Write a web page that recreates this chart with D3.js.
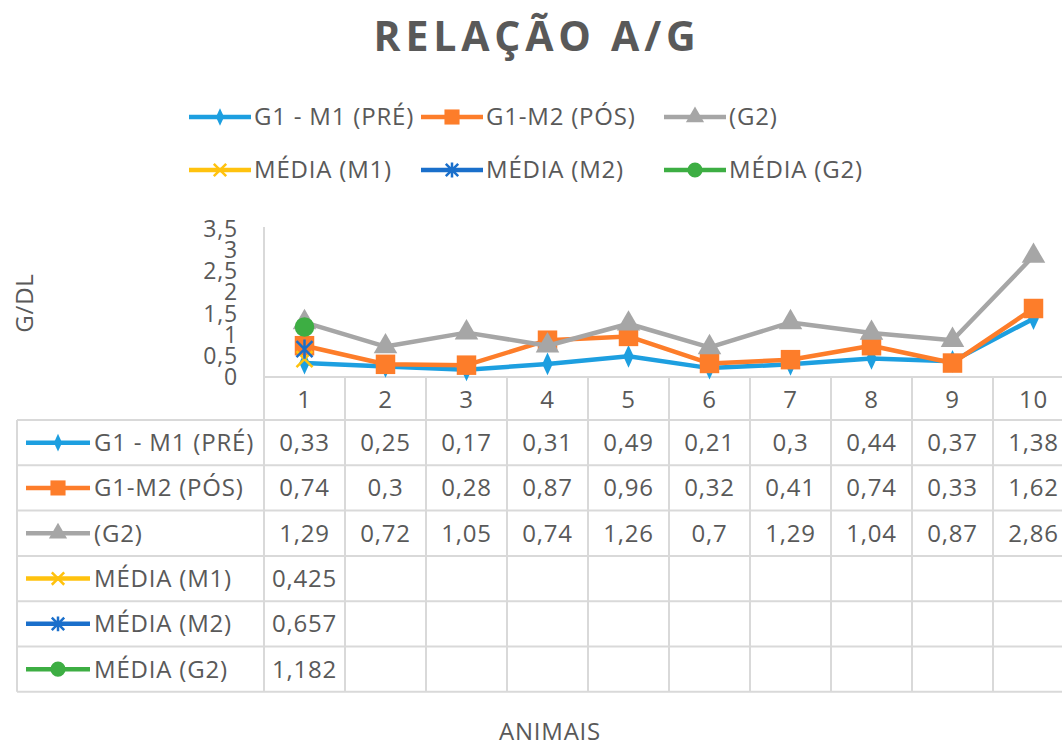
<!DOCTYPE html>
<html>
<head>
<meta charset="utf-8">
<script src="https://cdn.jsdelivr.net/npm/d3@7"></script>
<style>
  body { margin: 0; background: #fff; }
  text { font-family: "Open Sans", "Liberation Sans", sans-serif; fill: #595959; letter-spacing: 0.8px; }
</style>
</head>
<body>
<svg id="chart"></svg>
<script>
const width = 1062;
const height = 743;

// data
const animais = ["1", "2", "3", "4", "5", "6", "7", "8", "9", "10"];
const g1m1 = [0.33, 0.25, 0.17, 0.31, 0.49, 0.21, 0.3, 0.44, 0.37, 1.38];
const g1m2 = [0.74, 0.3, 0.28, 0.87, 0.96, 0.32, 0.41, 0.74, 0.33, 1.62];
const g2 = [1.29, 0.72, 1.05, 0.74, 1.26, 0.7, 1.29, 1.04, 0.87, 2.86];
const mediaM1 = [0.425];
const mediaM2 = [0.657];
const mediaG2 = [1.182];
const yTicks = [0, 0.5, 1, 1.5, 2, 2.5, 3, 3.5];

const series = [
    { name: "G1 - M1 (PRÉ)", values: g1m1, color: "#1d9fe0", marker: "diamond" },
    { name: "G1-M2 (PÓS)", values: g1m2, color: "#fd7d2a", marker: "square" },
    { name: "(G2)", values: g2, color: "#a6a6a6", marker: "triangle" },
    { name: "MÉDIA (M1)", values: mediaM1, color: "#ffc20e", marker: "x" },
    { name: "MÉDIA (M2)", values: mediaM2, color: "#1a6fcb", marker: "star" },
    { name: "MÉDIA (G2)", values: mediaG2, color: "#3dae43", marker: "circle" }
];

const fmt = v => String(v).replace(".", ",");

const svg = d3.select("#chart").attr("width", width).attr("height", height);

const plotLeft = 264, plotRight = 1074;
const plotTop = 229, plotBottom = 377;
const tableTop = 420, rowH = 45.3, tableLeft = 17;
const gridColor = "#d9d9d9";
const fs = 24;

const x = d3.scaleBand().domain(animais).range([plotLeft, plotRight]);
const y = d3.scaleLinear().domain([0, 3.5]).range([plotBottom, plotTop]);

// title
svg.append("text")
    .attr("x", 537).attr("y", 51)
    .attr("text-anchor", "middle")
    .attr("font-size", 41).attr("font-weight", "bold")
    .style("letter-spacing", "4.8px")
    .text("RELAÇÃO A/G");

// marker drawing
function drawMarker(g, type, color, cx, cy, s) {
    if (type === "diamond") {
        g.append("path").attr("d", d3.symbol(d3.symbolDiamond, 150 * s)())
            .attr("transform", `translate(${cx},${cy}) scale(0.8,1)`).attr("fill", color);
    } else if (type === "square") {
        g.append("path").attr("d", d3.symbol(d3.symbolSquare, 380 * s)())
            .attr("transform", `translate(${cx},${cy})`).attr("fill", color);
    } else if (type === "triangle") {
        g.append("path").attr("d", d3.symbol(d3.symbolTriangle, 240 * s)())
            .attr("transform", `translate(${cx},${cy})`).attr("fill", color);
    } else if (type === "circle") {
        g.append("path").attr("d", d3.symbol(d3.symbolCircle, 300 * s)())
            .attr("transform", `translate(${cx},${cy})`).attr("fill", color);
    } else if (type === "x") {
        const r = 8 * Math.sqrt(s);
        g.append("path").attr("d", `M${-r},${-r}L${r},${r}M${-r},${r}L${r},${-r}`)
            .attr("transform", `translate(${cx},${cy})`)
            .attr("stroke", color).attr("stroke-width", 2.5).attr("fill", "none");
    } else if (type === "star") {
        const r = 8 * Math.sqrt(s);
        g.append("path").attr("d", `M${-r},${-r}L${r},${r}M${-r},${r}L${r},${-r}M0,${-r * 1.2}L0,${r * 1.2}`)
            .attr("transform", `translate(${cx},${cy})`)
            .attr("stroke", color).attr("stroke-width", 2.5).attr("fill", "none");
    }
}

// legend at top
const legendX = [189, 421, 664];
const legendY = [117, 170];
series.forEach((s, i) => {
    const lx = legendX[i % 3], ly = legendY[Math.floor(i / 3)];
    const g = svg.append("g");
    g.append("line").attr("x1", lx).attr("x2", lx + 62).attr("y1", ly).attr("y2", ly)
        .attr("stroke", s.color).attr("stroke-width", 4.5);
    drawMarker(g, s.marker, s.color, lx + 31, ly, 0.6);
    g.append("text").attr("x", lx + 65).attr("y", ly).attr("dy", "0.35em")
        .attr("font-size", fs).text(s.name);
});

// y axis title
svg.append("text")
    .attr("transform", `translate(33,${(plotTop + plotBottom) / 2}) rotate(-90)`)
    .attr("text-anchor", "middle").attr("font-size", fs)
    .text("G/DL");

// y tick labels
svg.append("g").selectAll("text").data(yTicks).enter().append("text")
    .attr("x", 238).attr("y", d => y(d)).attr("dy", "0.35em")
    .attr("text-anchor", "end").attr("font-size", 23)
    .text(d => fmt(d));

// grid / table lines
const grid = svg.append("g").attr("stroke", gridColor).attr("stroke-width", 2);
const nRows = series.length;
const tableBottom = tableTop + rowH * nRows;
grid.append("line").attr("x1", plotLeft).attr("x2", plotLeft).attr("y1", plotTop - 2).attr("y2", tableBottom);
grid.append("line").attr("x1", plotLeft).attr("x2", width).attr("y1", plotBottom).attr("y2", plotBottom);
grid.selectAll("line.col").data(animais.slice(1)).enter().append("line")
    .attr("x1", d => x(d)).attr("x2", d => x(d))
    .attr("y1", plotBottom).attr("y2", tableBottom);
grid.append("line").attr("x1", tableLeft).attr("x2", tableLeft).attr("y1", tableTop).attr("y2", tableBottom);
d3.range(nRows + 1).forEach(r => {
    grid.append("line").attr("x1", tableLeft).attr("x2", width)
        .attr("y1", tableTop + r * rowH).attr("y2", tableTop + r * rowH);
});

// category labels
svg.append("g").selectAll("text").data(animais).enter().append("text")
    .attr("x", d => x(d) + x.bandwidth() / 2).attr("y", (plotBottom + tableTop) / 2 + 1)
    .attr("dy", "0.35em").attr("text-anchor", "middle").attr("font-size", fs)
    .text(d => d);

// lines and markers
const line = d3.line().x((d, i) => x(animais[i]) + x.bandwidth() / 2).y(d => y(d));
const plot = svg.append("g");
series.forEach(s => {
    if (s.values.length > 1) {
        plot.append("path").datum(s.values).attr("d", line)
            .attr("fill", "none").attr("stroke", s.color).attr("stroke-width", 4.5)
            .attr("stroke-linejoin", "round");
    }
    s.values.forEach((v, i) => {
        drawMarker(plot, s.marker, s.color, x(animais[i]) + x.bandwidth() / 2, y(v), 1);
    });
});

// table rows
series.forEach((s, r) => {
    const cy = tableTop + rowH * r + rowH / 2;
    const g = svg.append("g");
    g.append("line").attr("x1", 26).attr("x2", 90).attr("y1", cy).attr("y2", cy)
        .attr("stroke", s.color).attr("stroke-width", 4.5);
    drawMarker(g, s.marker, s.color, 58, cy, 0.6);
    g.append("text").attr("x", 94).attr("y", cy).attr("dy", "0.35em")
        .attr("font-size", fs).text(s.name);
    g.selectAll("text.v").data(s.values).enter().append("text")
        .attr("x", (d, i) => x(animais[i]) + x.bandwidth() / 2).attr("y", cy).attr("dy", "0.35em")
        .attr("text-anchor", "middle").attr("font-size", fs)
        .text(d => fmt(d));
});

// x axis title
svg.append("text").attr("x", 550).attr("y", 740)
    .attr("text-anchor", "middle").attr("font-size", fs).text("ANIMAIS");
</script>
</body>
</html>
